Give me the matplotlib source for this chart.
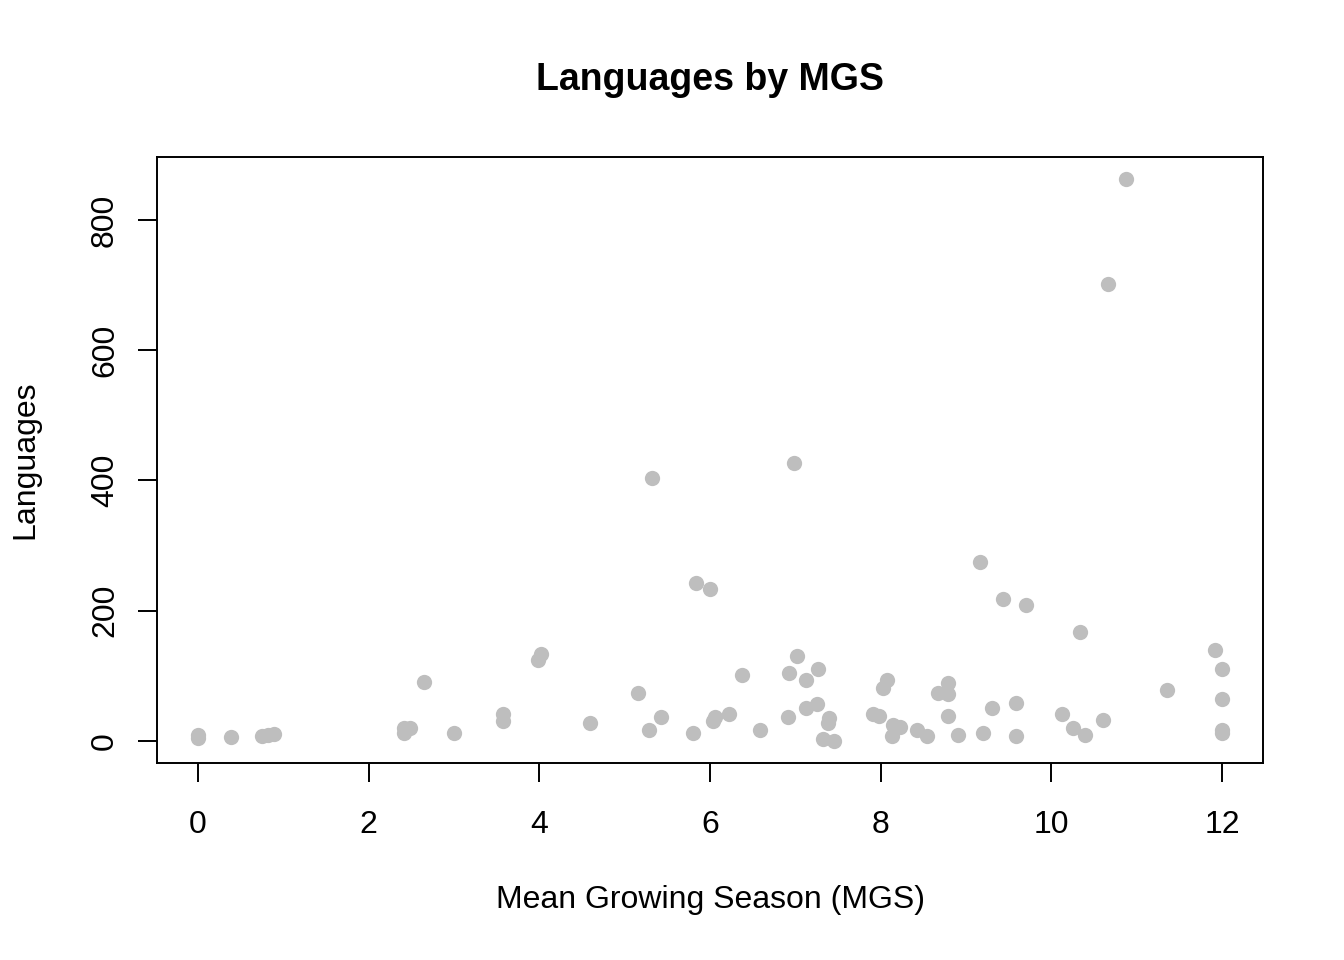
import matplotlib
matplotlib.use("Agg")
import matplotlib.pyplot as plt

mgs = [0.0, 0.0, 0.39, 0.75, 0.82, 0.89, 2.41, 2.49, 2.41, 2.65, 3.0, 3.57, 3.58,
       4.02, 3.99, 4.59, 5.16, 5.28, 5.32, 5.42, 5.80, 5.84, 6.0, 6.06, 6.04, 6.22,
       6.38, 6.59, 6.91, 6.92, 6.99, 7.02, 7.13, 7.13, 7.25, 7.27, 7.39, 7.38, 7.32,
       7.45, 7.91, 7.98, 8.07, 8.03, 8.15, 8.23, 8.13, 8.43, 8.54, 8.67, 8.79, 8.79,
       8.79, 8.91, 9.16, 9.20, 9.30, 9.43, 9.58, 9.59, 9.70, 10.13, 10.25, 10.33,
       10.39, 10.61, 10.66, 10.87, 11.36, 11.92, 12.0, 12.0, 12.0, 12.0]
languages = [9, 4, 6, 7, 9, 11, 20, 20, 12, 91, 13, 42, 30,
             134, 124, 27, 74, 17, 404, 37, 13, 243, 234, 37, 30, 42,
             101, 17, 37, 105, 427, 130, 93, 51, 57, 111, 36, 27, 3,
             0, 42, 38, 94, 82, 24, 22, 7, 17, 8, 74, 89, 72,
             39, 9, 275, 13, 51, 218, 7, 59, 209, 42, 20, 167,
             9, 32, 702, 863, 78, 140, 111, 65, 17, 12]

xticks = [0, 2, 4, 6, 8, 10, 12]
yticks = [0, 200, 400, 600, 800]

plt.rcParams['font.family'] = ['Liberation Sans', 'DejaVu Sans']

W, H = 1344, 960
fig = plt.figure(figsize=(W / 100, H / 100), dpi=100)
L, R, T, B = 157, 1263, 157, 763
ax = fig.add_axes([L / W, 1 - B / H, (R - L) / W, (B - T) / H])

ax.plot(mgs, languages, linestyle='none', marker='o', markersize=11,
        color='#BEBEBE', markeredgewidth=0)

ax.set_xlim(-0.48, 12.48)
ax.set_ylim(-33.8, 896.7)
ax.set_xticks(xticks)
ax.set_xticklabels([str(v) for v in xticks])
ax.set_yticks(yticks)
ax.set_yticklabels([str(v) for v in yticks], rotation=90, va='center')

for s in ax.spines.values():
    s.set_linewidth(1.4)
    s.set_color('black')
ax.tick_params(axis='both', length=13.7, width=1.4, labelsize=23, direction='out')
ax.tick_params(axis='x', pad=20)
ax.tick_params(axis='y', pad=13)

fig.text(710 / W, 1 - 900 / H, 'Mean Growing Season (MGS)', ha='center', va='center', fontsize=23)
fig.text(25 / W, 1 - 460 / H, 'Languages', ha='center', va='center', fontsize=23, rotation=90)
fig.text(710 / W, 1 - 80 / H, 'Languages by MGS', ha='center', va='center', fontsize=27, fontweight='bold')

fig.savefig('out.png', dpi=100, facecolor='white')
